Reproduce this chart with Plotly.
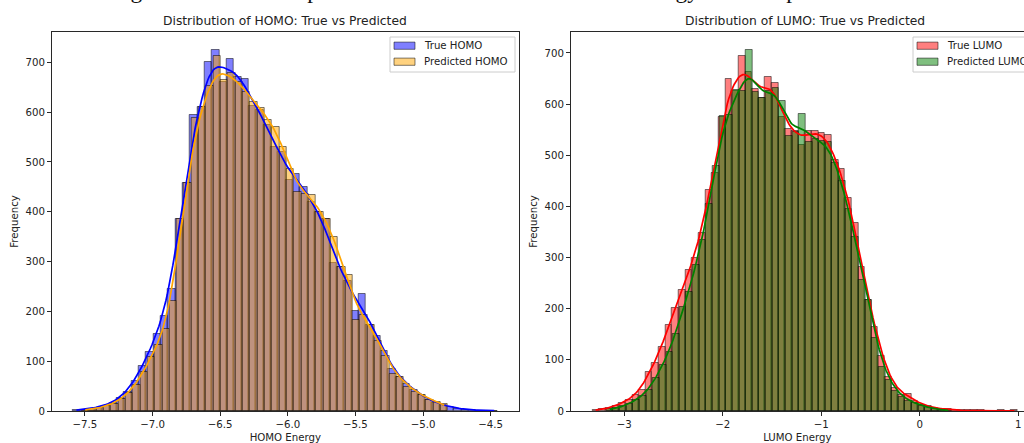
import numpy as np
import plotly.graph_objects as go

# ---------------- data ----------------
homo_true_start = -7.59
homo_true_width = 0.0542
homo_true_counts = [2, 3, 5, 7, 11, 17, 26, 38, 60, 90,
                    118, 155, 190, 245, 385, 458, 594, 611, 700, 725,
                    661, 707, 670, 667, 612, 605, 575, 530, 520, 464,
                    475, 450, 420, 400, 385, 297, 290, 262, 200, 235,
                    173, 150, 120, 85, 68, 55, 42, 33, 22, 17,
                    12, 8, 5, 3, 2, 1, 1, 1]

homo_pred_start = -7.525
homo_pred_width = 0.0542
homo_pred_counts = [2, 4, 6, 10, 15, 24, 36, 52, 79, 109,
                    133, 165, 220, 385, 458, 588, 611, 652, 713, 665,
                    678, 660, 641, 621, 608, 584, 570, 531, 486, 440,
                    436, 434, 400, 385, 350, 290, 273, 183, 193, 173,
                    140, 110, 75, 68, 49, 39, 32, 22, 19, 15]

lumo_true_start = -3.324
lumo_true_width = 0.06747
lumo_true_counts = [1, 3, 6, 10, 15, 21, 31, 41, 77, 93,
                    126, 168, 201, 237, 275, 299, 349, 432, 465, 575,
                    649, 625, 695, 662, 630, 612, 653, 642, 575, 551,
                    547, 520, 547, 547, 543, 540, 491, 473, 416, 367,
                    282, 218, 165, 107, 67, 45, 31, 33, 20, 12,
                    9, 6, 4, 3, 2, 1, 1, 1, 1, 0,
                    0, 1, 0, 1]

lumo_pred_start = -3.18
lumo_pred_width = 0.06736
lumo_pred_counts = [3, 5, 9, 14, 21, 30, 41, 65, 90, 115,
                    150, 203, 232, 285, 335, 405, 479, 577, 578, 627,
                    625, 706, 623, 612, 625, 632, 607, 537, 545, 581,
                    525, 531, 527, 525, 485, 449, 395, 341, 256, 218,
                    142, 87, 61, 40, 28, 20, 15, 10, 7, 4,
                    2, 1]

homo_ticks = [-7.5, -7.0, -6.5, -6.0, -5.5, -5.0, -4.5]
homo_ticklabels = ["\u22127.5", "\u22127.0", "\u22126.5", "\u22126.0", "\u22125.5", "\u22125.0", "\u22124.5"]
lumo_ticks = [-3, -2, -1, 0, 1]
lumo_ticklabels = ["\u22123", "\u22122", "\u22121", "0", "1"]
freq_ticks = [0, 100, 200, 300, 400, 500, 600, 700]

series = [
    ("True HOMO", homo_true_start, homo_true_width, homo_true_counts, (0, 0, 255), "x", "y"),
    ("Predicted HOMO", homo_pred_start, homo_pred_width, homo_pred_counts, (255, 165, 0), "x", "y"),
    ("True LUMO", lumo_true_start, lumo_true_width, lumo_true_counts, (255, 0, 0), "x2", "y2"),
    ("Predicted LUMO", lumo_pred_start, lumo_pred_width, lumo_pred_counts, (0, 128, 0), "x2", "y2"),
]


def bins(start, width, counts):
    counts = np.asarray(counts, float)
    edges = start + width * np.arange(len(counts) + 1)
    centers = (edges[:-1] + edges[1:]) / 2
    return edges, centers, counts


def kde_curve(start, width, counts, npts=300):
    edges, centers, counts = bins(start, width, counts)
    n = counts.sum()
    mean = (centers * counts).sum() / n
    sd = np.sqrt(((centers - mean) ** 2 * counts).sum() / (n - 1))
    bw = sd * n ** (-0.2)
    grid = np.linspace(edges[0] + width / 2, edges[-1] - width / 2, npts)
    dens = (counts[None, :] * np.exp(-0.5 * ((grid[:, None] - centers[None, :]) / bw) ** 2)).sum(1)
    dens /= n * bw * np.sqrt(2 * np.pi)
    return grid, dens * n * width


fig = go.Figure()
for name, start, width, counts, rgb, xa, ya in series:
    edges, centers, c = bins(start, width, counts)
    fig.add_trace(go.Bar(
        x=centers, y=c, width=width, name=name, xaxis=xa, yaxis=ya, showlegend=False,
        marker=dict(color="rgba(%d,%d,%d,0.5)" % rgb,
                    line=dict(color="rgba(0,0,0,0.5)", width=1)),
        hoverinfo="skip"))
for name, start, width, counts, rgb, xa, ya in series:
    gx, gy = kde_curve(start, width, counts)
    fig.add_trace(go.Scatter(
        x=gx, y=gy, mode="lines", xaxis=xa, yaxis=ya, showlegend=False,
        line=dict(color="rgb(%d,%d,%d)" % rgb, width=1.7), hoverinfo="skip"))

W, H = 1024, 443
ydom = [1 - 411 / H, 1 - 32 / H]
font = "DejaVu Sans"
axcol = "rgb(40,40,40)"
txtcol = "#222"
tickfont = dict(family=font, size=10.2, color=txtcol)

common_x = dict(showline=True, linecolor=axcol, linewidth=1, mirror=True, ticks="outside",
                ticklen=3.6, tickwidth=0.9, tickcolor=axcol, showgrid=False, zeroline=False,
                tickfont=tickfont, title_font=dict(family=font, size=10.2, color=txtcol),
                title_standoff=5)
common_y = dict(showline=True, linecolor=axcol, linewidth=1, ticks="outside",
                ticklen=3.6, tickwidth=0.9, tickcolor=axcol, showgrid=False, zeroline=False,
                tickfont=tickfont, title_font=dict(family=font, size=10.2, color=txtcol),
                title_standoff=5, tickmode="array", tickvals=freq_ticks)

fig.update_layout(
    width=W, height=H, autosize=False,
    margin=dict(l=0, r=0, t=0, b=0, autoexpand=False),
    paper_bgcolor="white", plot_bgcolor="white",
    barmode="overlay", bargap=0, showlegend=False,
    xaxis=dict(domain=[51.7 / W, 519 / W], range=[-7.746, -4.29], anchor="y",
               tickmode="array", tickvals=homo_ticks, ticktext=homo_ticklabels,
               title_text="HOMO Energy", **common_x),
    yaxis=dict(domain=ydom, range=[0, 761], anchor="x", mirror=True,
               title_text="Frequency", **common_y),
    xaxis2=dict(domain=[570.7 / W, 1.0], range=[-3.544, 1.058], anchor="y2",
                tickmode="array", tickvals=lumo_ticks, ticktext=lumo_ticklabels,
                title_text="LUMO Energy", **common_x),
    yaxis2=dict(domain=ydom, range=[0, 741], anchor="x2", mirror=False,
                title_text="Frequency", **common_y),
)

# subplot titles
fig.add_annotation(text="Distribution of HOMO: True vs Predicted", xref="paper", yref="paper",
                   x=(51.7 + 519) / 2 / W, y=1 - 21 / H, xanchor="center", yanchor="middle",
                   showarrow=False, font=dict(family=font, size=12.3, color=txtcol))
fig.add_annotation(text="Distribution of LUMO: True vs Predicted", xref="paper", yref="paper",
                   x=(570.7 + 1039.6) / 2 / W, y=1 - 21 / H, xanchor="center", yanchor="middle",
                   showarrow=False, font=dict(family=font, size=12.3, color=txtcol))
# figure suptitle, mostly cut off above the visible area
fig.add_annotation(text="Histogram &amp; KDE Comparison of the HOMO and LUMO Energy: True vs predicted",
                   xref="paper", yref="paper", x=476 / W, y=1 - 5 / H, xanchor="center", yanchor="bottom",
                   showarrow=False, font=dict(family="Liberation Serif", size=23.3, color="#111"))


# legends (matplotlib style: wide flat patches inside a light frame)
def px(x):
    return x / W


def py(y):
    return 1 - y / H


def add_legend(box_x0, box_x1, entries):
    fig.add_shape(type="rect", xref="paper", yref="paper",
                  x0=px(box_x0), x1=px(box_x1), y0=py(37), y1=py(72),
                  line=dict(color="#cccccc", width=1), fillcolor="rgba(255,255,255,0.8)", layer="above")
    for i, (name, rgb) in enumerate(entries):
        yc = 45.7 + 16 * i
        fig.add_shape(type="rect", xref="paper", yref="paper",
                      x0=px(box_x0 + 4), x1=px(box_x0 + 25), y0=py(yc - 3.6), y1=py(yc + 3.6),
                      line=dict(color="rgba(0,0,0,0.5)", width=1),
                      fillcolor="rgba(%d,%d,%d,0.5)" % rgb, layer="above")
        fig.add_annotation(text=name, xref="paper", yref="paper", x=px(box_x0 + 32), y=py(yc),
                           xanchor="left", yanchor="middle", showarrow=False,
                           font=dict(family=font, size=10.2, color=txtcol))


add_legend(390, 515, [(s[0], s[4]) for s in series[:2]])
add_legend(913, 1040, [(s[0], s[4]) for s in series[2:]])

fig.write_html("out.html")
